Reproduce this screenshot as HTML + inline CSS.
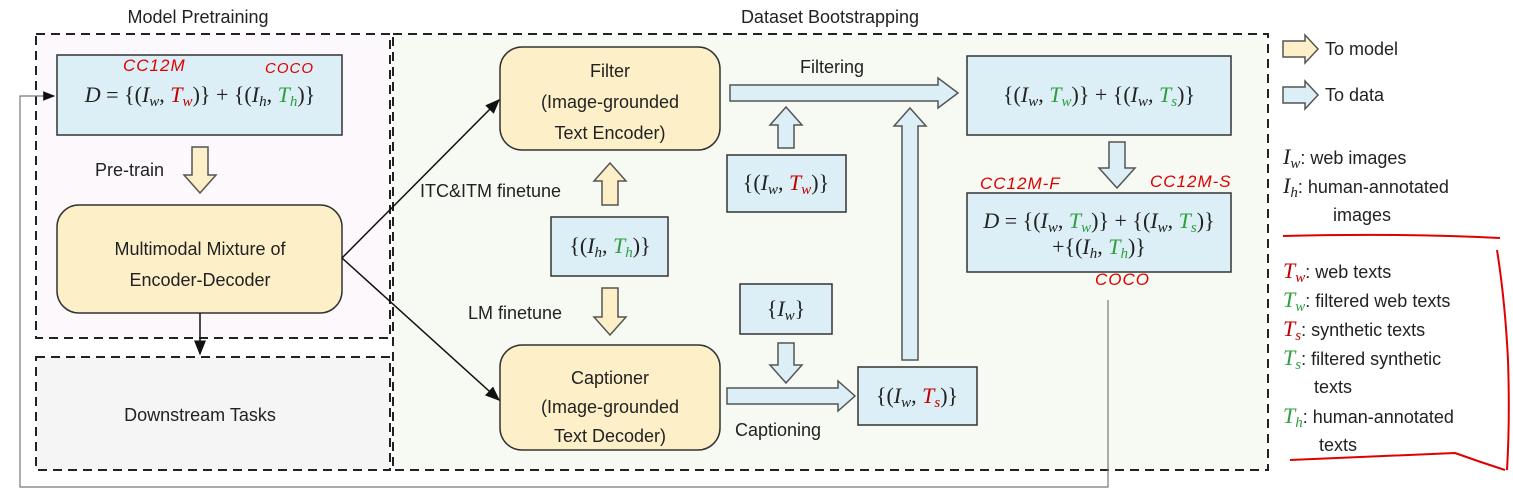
<!DOCTYPE html>
<html><head><meta charset="utf-8"><style>
body{margin:0;width:1513px;height:499px;background:#fff;position:relative;overflow:hidden;font-family:"Liberation Sans",sans-serif;color:#222}
.t{position:absolute;font-size:18px;white-space:nowrap;line-height:20px}
.c{transform:translateX(-50%);text-align:center}
.m{font-family:"Liberation Serif",serif;font-size:22px}
.m i{font-style:italic}
sub{font-size:15px;vertical-align:-4px;line-height:0;font-style:italic}
.r{color:#c00000}.g{color:#2e9e3e}
.h{position:absolute;color:#e00000;font-family:"Liberation Sans",sans-serif;font-size:17px;font-style:italic;letter-spacing:1px}
</style></head><body>
<svg width="1513" height="499" style="position:absolute;left:0;top:0">
<defs><marker id="a" markerWidth="10" markerHeight="8" refX="9" refY="4" orient="auto"><path d="M0,0 L10,4 L0,8 z" fill="#111"/></marker></defs>
<rect x="36" y="34" width="354" height="304" fill="#fcf8fc" stroke="#222" stroke-width="2" stroke-dasharray="9,6"/>
<rect x="36" y="357" width="354" height="113" fill="#f6f5f6" stroke="#222" stroke-width="2" stroke-dasharray="9,6"/>
<rect x="393" y="34" width="875" height="436" fill="#f6faf2" stroke="#222" stroke-width="2" stroke-dasharray="9,6"/>
<rect x="57" y="55" width="285" height="80" fill="#dceef6" stroke="#333" stroke-width="1.5"/>
<rect x="57" y="205" width="285" height="108" rx="22" fill="#fdefc8" stroke="#333" stroke-width="1.5"/>
<rect x="500" y="47" width="220" height="103" rx="22" fill="#fdefc8" stroke="#333" stroke-width="1.5"/>
<rect x="500" y="345" width="220" height="105" rx="22" fill="#fdefc8" stroke="#333" stroke-width="1.5"/>
<rect x="551" y="217" width="117" height="59" fill="#dceef6" stroke="#333" stroke-width="1.5"/>
<rect x="727" y="155" width="119" height="57" fill="#dceef6" stroke="#333" stroke-width="1.5"/>
<rect x="740" y="284" width="92" height="50" fill="#dceef6" stroke="#333" stroke-width="1.5"/>
<rect x="858" y="367" width="119" height="58" fill="#dceef6" stroke="#333" stroke-width="1.5"/>
<rect x="967" y="56" width="264" height="79" fill="#dceef6" stroke="#333" stroke-width="1.5"/>
<rect x="967" y="193" width="264" height="79" fill="#dceef6" stroke="#333" stroke-width="1.5"/>
<g stroke="#111" stroke-width="1.5" fill="none">
<line x1="200" y1="313" x2="200" y2="354" marker-end="url(#a)"/>
<line x1="342" y1="258" x2="499" y2="100" marker-end="url(#a)"/>
<line x1="342" y1="258" x2="499" y2="400" marker-end="url(#a)"/>
</g>
<polyline points="1108,300 1108,487 20,487 20,96 54,96" fill="none" stroke="#777" stroke-width="1.2" marker-end="url(#a)"/>
<g stroke="#555" stroke-width="1.5">
<polygon fill="#fdefc8" points="192,147 208,147 208,175 216,175 200,193 184,175 192,175"/>
<polygon fill="#fdefc8" points="610,163 626,181 618,181 618,205 602,205 602,181 594,181"/>
<polygon fill="#fdefc8" points="602,288 618,288 618,317 626,317 610,335 594,317 602,317"/>
<polygon fill="#dceef6" points="786,107 802,125 794,125 794,148 778,148 778,125 770,125"/>
<polygon fill="#dceef6" points="730,85 938,85 938,78 958,93 938,108 938,101 730,101"/>
<polygon fill="#dceef6" points="1109,142 1125,142 1125,168 1135,168 1117,188 1099,168 1109,168"/>
<polygon fill="#dceef6" points="778,343 794,343 794,365 802,365 786,383 770,365 778,365"/>
<polygon fill="#dceef6" points="727,388 838,388 838,381 855,396 838,411 838,404 727,404"/>
<polygon fill="#dceef6" points="910,108 926,126 918,126 918,360 902,360 902,126 894,126"/>
<polygon fill="#fdefc8" points="1283,41 1305,41 1305,35 1318,49 1305,63 1305,57 1283,57"/>
<polygon fill="#dceef6" points="1283,87 1305,87 1305,81 1318,95 1305,109 1305,103 1283,103"/>
</g>
<g stroke="#e00000" stroke-width="2" fill="none">
<path d="M1283,236 Q1400,233 1500,238"/>
<path d="M1290,460 Q1380,456 1455,453 Q1480,462 1505,470"/>
<path d="M1497,250 Q1505,300 1508,360 Q1510,420 1507,470"/>
</g>
</svg>
<div class="t c" style="left:198px;top:7px;font-size:18px">Model Pretraining</div>
<div class="t c" style="left:830px;top:7px;font-size:18px">Dataset Bootstrapping</div>
<div class="t c m" style="left:200px;top:85px"><i>D</i> = {(<i>I</i><sub>w</sub>, <i class="r">T</i><sub class="r">w</sub>)} + {(<i>I</i><sub>h</sub>, <i class="g">T</i><sub class="g">h</sub>)}</div>
<div class="h" style="left:123px;top:56px">CC12M</div>
<div class="h" style="left:265px;top:60px;font-size:15px">COCO</div>
<div class="t" style="left:95px;top:160px">Pre-train</div>
<div class="t c" style="left:200px;top:234px;line-height:31px">Multimodal Mixture of<br>Encoder-Decoder</div>
<div class="t c" style="left:200px;top:405px">Downstream Tasks</div>
<div class="t c" style="left:610px;top:56px;line-height:31px">Filter<br>(Image-grounded<br>Text Encoder)</div>
<div class="t c" style="left:610px;top:364px;line-height:29px">Captioner<br>(Image-grounded<br>Text Decoder)</div>
<div class="t" style="left:420px;top:181px">ITC&amp;ITM finetune</div>
<div class="t" style="left:468px;top:303px">LM finetune</div>
<div class="t" style="left:800px;top:57px">Filtering</div>
<div class="t" style="left:735px;top:420px">Captioning</div>
<div class="t c m" style="left:610px;top:236px">{(<i>I</i><sub>h</sub>, <i class="g">T</i><sub class="g">h</sub>)}</div>
<div class="t c m" style="left:786px;top:173px">{(<i>I</i><sub>w</sub>, <i class="r">T</i><sub class="r">w</sub>)}</div>
<div class="t c m" style="left:786px;top:299px">{<i>I</i><sub>w</sub>}</div>
<div class="t c m" style="left:917px;top:386px">{(<i>I</i><sub>w</sub>, <i class="r">T</i><sub class="r">s</sub>)}</div>
<div class="t c m" style="left:1099px;top:85px">{(<i>I</i><sub>w</sub>, <i class="g">T</i><sub class="g">w</sub>)} + {(<i>I</i><sub>w</sub>, <i class="g">T</i><sub class="g">s</sub>)}</div>
<div class="t c m" style="left:1099px;top:208px;line-height:26px"><i>D</i> = {(<i>I</i><sub>w</sub>, <i class="g">T</i><sub class="g">w</sub>)} + {(<i>I</i><sub>w</sub>, <i class="g">T</i><sub class="g">s</sub>)}<br>+{(<i>I</i><sub>h</sub>, <i class="g">T</i><sub class="g">h</sub>)}</div>
<div class="h" style="left:980px;top:174px">CC12M-F</div>
<div class="h" style="left:1150px;top:172px">CC12M-S</div>
<div class="h" style="left:1095px;top:270px">COCO</div>
<div class="t" style="left:1325px;top:39px">To model</div>
<div class="t" style="left:1325px;top:85px">To data</div>
<div class="t" style="left:1283px;top:147px"><span class="m"><i>I</i><sub>w</sub></span>: web images</div>
<div class="t" style="left:1283px;top:176px"><span class="m"><i>I</i><sub>h</sub></span>: human-annotated</div>
<div class="t" style="left:1333px;top:205px">images</div>
<div class="t" style="left:1283px;top:261px"><span class="m r"><i>T</i><sub>w</sub></span>: web texts</div>
<div class="t" style="left:1283px;top:290px"><span class="m g"><i>T</i><sub>w</sub></span>: filtered web texts</div>
<div class="t" style="left:1283px;top:319px"><span class="m r"><i>T</i><sub>s</sub></span>: synthetic texts</div>
<div class="t" style="left:1283px;top:348px"><span class="m g"><i>T</i><sub>s</sub></span>: filtered synthetic</div>
<div class="t" style="left:1314px;top:377px">texts</div>
<div class="t" style="left:1283px;top:406px"><span class="m g"><i>T</i><sub>h</sub></span>: human-annotated</div>
<div class="t" style="left:1319px;top:435px">texts</div>
</body></html>
